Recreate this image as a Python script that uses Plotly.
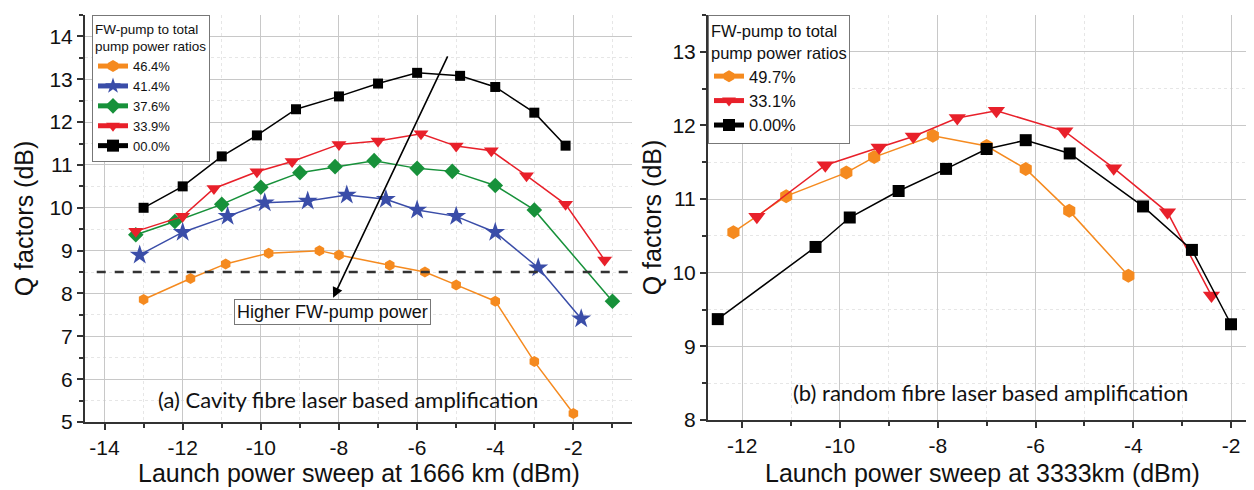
import plotly.graph_objects as go

# ---------------- Panel (a): cavity fibre laser, 1666 km ----------------
a_names = ["46.4%", "41.4%", "37.6%", "33.9%", "00.0%"]
a_x_464 = [-13.0, -11.8, -10.9, -9.8, -8.5, -8.0, -6.7, -5.8, -5.0, -4.0, -3.0, -2.0]
a_y_464 = [7.86, 8.35, 8.69, 8.94, 9.0, 8.9, 8.66, 8.5, 8.2, 7.82, 6.41, 5.2]
a_x_414 = [-13.1, -12.0, -10.85, -9.9, -8.8, -7.8, -6.8, -6.0, -5.0, -4.0, -2.9, -1.8]
a_y_414 = [8.9, 9.43, 9.8, 10.12, 10.16, 10.3, 10.2, 9.95, 9.8, 9.43, 8.6, 7.41]
a_x_376 = [-13.2, -12.2, -11.0, -10.0, -9.0, -8.1, -7.1, -6.0, -5.1, -4.0, -3.0, -1.0]
a_y_376 = [9.37, 9.68, 10.08, 10.48, 10.82, 10.96, 11.1, 10.92, 10.85, 10.52, 9.95, 7.82]
a_x_339 = [-13.2, -12.0, -11.2, -10.1, -9.2, -8.0, -7.0, -5.9, -5.0, -4.1, -3.2, -2.2, -1.2]
a_y_339 = [9.45, 9.8, 10.45, 10.84, 11.08, 11.48, 11.56, 11.73, 11.44, 11.33, 10.75, 10.08, 8.78]
a_x_000 = [-13.0, -12.0, -11.0, -10.1, -9.1, -8.0, -7.0, -6.0, -4.9, -4.0, -3.0, -2.2]
a_y_000 = [10.0, 10.5, 11.2, 11.69, 12.3, 12.6, 12.9, 13.15, 13.08, 12.82, 12.22, 11.45]
a_threshold = 8.5
a_xticks = [-14, -12, -10, -8, -6, -4, -2]
a_xticklabels = ["-14", "-12", "-10", "-8", "-6", "-4", "-2"]
a_yticks = [5, 6, 7, 8, 9, 10, 11, 12, 13, 14]

# ---------------- Panel (b): random fibre laser, 3333 km ----------------
b_names = ["49.7%", "33.1%", "0.00%"]
b_x_497 = [-12.18, -11.1, -9.87, -9.3, -8.1, -7.0, -6.2, -5.31, -4.1]
b_y_497 = [10.55, 11.04, 11.36, 11.57, 11.86, 11.72, 11.41, 10.84, 9.96]
b_x_331 = [-11.7, -10.3, -9.2, -8.5, -7.6, -6.8, -5.4, -4.4, -3.3, -2.4]
b_y_331 = [10.76, 11.46, 11.7, 11.85, 12.1, 12.2, 11.92, 11.42, 10.82, 9.69]
b_x_000 = [-12.5, -10.5, -9.8, -8.8, -7.83, -7.0, -6.2, -5.3, -3.8, -2.8, -2.0]
b_y_000 = [9.37, 10.35, 10.75, 11.11, 11.41, 11.68, 11.8, 11.62, 10.9, 10.31, 9.3]
b_xticks = [-12, -10, -8, -6, -4, -2]
b_xticklabels = ["-12", "-10", "-8", "-6", "-4", "-2"]
b_yticks = [8, 9, 10, 11, 12, 13]

ORANGE = "#F58A1F"
BLUE = "#3A4DA8"
GREEN = "#17913A"
RED = "#E8202A"
BLACK = "#000000"
FONT = "Liberation Sans, Arial, sans-serif"
TXTFONT = "Lato, Open Sans, sans-serif"

fig = go.Figure()

a_series = [
    (a_x_464, a_y_464, a_names[0], ORANGE, "hexagon", 11),
    (a_x_414, a_y_414, a_names[1], BLUE, "star", 15),
    (a_x_376, a_y_376, a_names[2], GREEN, "diamond", 12),
    (a_x_339, a_y_339, a_names[3], RED, "triangle-down", 13),
    (a_x_000, a_y_000, a_names[4], BLACK, "square", 10),
]
for xs, ys, nm, col, sym, sz in a_series:
    fig.add_trace(go.Scatter(
        x=xs, y=ys, name=nm, mode="lines+markers",
        line=dict(color=col, width=1.5),
        marker=dict(symbol=sym, size=sz, color=col),
        xaxis="x", yaxis="y", legend="legend",
    ))

b_series = [
    (b_x_497, b_y_497, b_names[0], ORANGE, "hexagon", 14),
    (b_x_331, b_y_331, b_names[1], RED, "triangle-down", 15),
    (b_x_000, b_y_000, b_names[2], BLACK, "square", 12),
]
for xs, ys, nm, col, sym, sz in b_series:
    fig.add_trace(go.Scatter(
        x=xs, y=ys, name=nm, mode="lines+markers",
        line=dict(color=col, width=1.5),
        marker=dict(symbol=sym, size=sz, color=col),
        xaxis="x2", yaxis="y2", legend="legend2",
    ))

# The page body has an 8 px margin, so the figure is placed at (8, 8).
OFF = 8
W, H = 1254 - OFF, 490 - OFF


def px(x):
    return (x - OFF) / W


def py(y):
    return 1 - (y - OFF) / H


def dom_x(a, b):
    return [px(a), px(b)]


def dom_y(top, bottom):
    return [py(bottom), py(top)]


axis_common = dict(
    showline=True, linecolor="#333333", linewidth=2, mirror=False,
    ticks="outside", ticklen=6, tickwidth=1.5, tickcolor="#333333",
    showgrid=True, gridcolor="#C8C8C8", gridwidth=1,
    zeroline=False, automargin=False,
    tickfont=dict(family=FONT, size=21, color="#111111"),
)
minor_x = dict(dtick=1, tick0=0, ticks="outside", ticklen=4, tickcolor="#333333",
               showgrid=True, gridcolor="#E6E6E6", griddash="dot")
minor_y = dict(dtick=0.5, tick0=0, ticks="outside", ticklen=4, tickcolor="#333333",
               showgrid=True, gridcolor="#E6E6E6", griddash="dot")
title_font = dict(family=FONT, size=25, color="#111111")

fig.update_layout(
    width=W, height=H,
    margin=dict(l=0, r=0, t=0, b=0, autoexpand=False),
    paper_bgcolor="white", plot_bgcolor="white",
    xaxis=dict(
        domain=dom_x(85, 632), range=[-14.5, -0.5], anchor="y",
        tickmode="array", tickvals=a_xticks, ticktext=a_xticklabels,
        minor=minor_x, **axis_common,
    ),
    yaxis=dict(
        domain=dom_y(15, 422), range=[5, 14.5], anchor="x",
        tickmode="array", tickvals=a_yticks,
        minor=minor_y,
        title=dict(text="Q factors (dB)", standoff=9, font=title_font),
        **axis_common,
    ),
    xaxis2=dict(
        domain=dom_x(708, 1254), range=[-12.7, -1.53], anchor="y2",
        tickmode="array", tickvals=b_xticks, ticktext=b_xticklabels,
        minor=minor_x, **axis_common,
    ),
    yaxis2=dict(
        domain=dom_y(15, 420), range=[8, 13.5], anchor="x2",
        tickmode="array", tickvals=b_yticks,
        minor=minor_y,
        title=dict(text="Q factors (dB)", standoff=4, font=title_font),
        **axis_common,
    ),
    legend=dict(
        x=px(92), y=py(15), xanchor="left", yanchor="top",
        bgcolor="white", bordercolor="#777777", borderwidth=1,
        font=dict(family=FONT, size=13, color="#111111"),
        title=dict(text="FW-pump to total<br>pump power ratios",
                   font=dict(family=FONT, size=13.5, color="#111111")),
        tracegroupgap=0, itemwidth=30, itemsizing="constant",
    ),
    legend2=dict(
        x=px(708), y=py(15), xanchor="left", yanchor="top",
        bgcolor="white", bordercolor="#777777", borderwidth=1,
        font=dict(family=FONT, size=16.5, color="#111111"),
        title=dict(text="FW-pump to total<br>pump power ratios",
                   font=dict(family=FONT, size=16.5, color="#111111")),
        tracegroupgap=0, itemwidth=30, itemsizing="constant",
    ),
    showlegend=True,
)

# x-axis titles
fig.add_annotation(xref="paper", yref="paper", x=px(359), y=py(473),
                   xanchor="center", yanchor="middle", showarrow=False,
                   text="Launch power sweep at 1666 km (dBm)", font=title_font)
fig.add_annotation(xref="paper", yref="paper", x=px(982), y=py(473),
                   xanchor="center", yanchor="middle", showarrow=False,
                   text="Launch power sweep at 3333km (dBm)", font=title_font)

# threshold dashed line in panel (a)
fig.add_shape(type="line", xref="x", yref="y", x0=-14.2, x1=-0.5,
              y0=a_threshold, y1=a_threshold,
              line=dict(color="#333333", width=2.5, dash="dash"))

# arrow + label
fig.add_annotation(xref="x", yref="y", axref="x", ayref="y",
                   x=-8.15, y=7.9, ax=-5.2, ay=13.57, text="",
                   showarrow=True, arrowhead=2, arrowsize=1.3, arrowwidth=1.6,
                   arrowcolor="black")
fig.add_annotation(xref="x", yref="y", x=-8.17, y=7.56,
                   text="Higher FW-pump power", showarrow=False,
                   font=dict(family=FONT, size=18, color="#111111"),
                   bgcolor="white", bordercolor="#777777", borderwidth=1,
                   borderpad=2)

fig.add_annotation(xref="x", yref="y", x=-7.76, y=5.52,
                   text="(a) Cavity fibre laser based amplification",
                   showarrow=False,
                   font=dict(family=TXTFONT, size=22, color="#111111"))
fig.add_annotation(xref="x2", yref="y2", x=-6.93, y=8.38,
                   text="(b) random fibre laser based amplification",
                   showarrow=False,
                   font=dict(family=TXTFONT, size=22, color="#111111"))

fig.write_html("out.html")
